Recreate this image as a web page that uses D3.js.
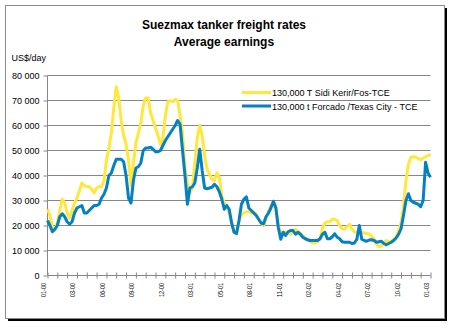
<!DOCTYPE html>
<html><head><meta charset="utf-8">
<script src="https://cdn.jsdelivr.net/npm/d3@7"></script>
<style>
body{margin:0;background:#fff}
svg{display:block}
text{font-family:"Liberation Sans",Arial,Helvetica,sans-serif;fill:#000}
</style>
</head><body>
<svg id="chart" width="452" height="328"></svg>
<script>
// ---- data ----
const titleLines = ["Suezmax tanker freight rates", "Average earnings"];
const yUnitLabel = "US$/day";
const seriesNames = ["130,000 T Sidi Kerir/Fos-TCE", "130,000 t Forcado /Texas City - TCE"];
const seriesColors = ["#FFE83A", "#0480C4"];
const xLabels = ["01-00","03-00","06-00","09-00","12-00","03-01","05-01","08-01","11-01","02-02","04-02","07-02","10-02","01-03"];
const yTicks = [0,10000,20000,30000,40000,50000,60000,70000,80000];
// weekly observations, Jan 2000 - Jan 2003
const sidiKerir = [
26500,24000,19000,18000,21000,26000,30500,29000,25000,23000,
26000,29000,31000,34000,37000,36000,35500,35500,34500,33000,
35000,35500,35500,38000,46000,51000,57000,67000,75500,71000,
62000,56000,52500,46000,36000,45000,53000,57000,61000,68000,
71000,71000,65000,62000,59000,56000,52500,55000,64000,69500,
70000,69500,70500,70000,64000,57000,43000,37000,33000,35000,
45000,55000,60000,56000,48000,42500,40500,38500,38000,41000,
39000,32000,29000,27000,25000,21000,17000,16500,21500,24500,
25000,25500,25500,25000,25500,24500,22500,21000,20000,22500,
25500,28000,29500,28000,20000,17500,17000,17500,17000,16500,
17500,18500,17500,17000,16000,15000,14000,13500,13000,13000,
13500,14500,19000,21000,21500,21500,22500,22500,22000,20000,
18700,18500,19500,20500,18500,17500,17300,17300,17300,17000,
16800,16700,15500,14700,12500,11500,11800,13000,14000,13500,
13300,14500,15500,18000,21000,28000,38000,44500,47300,47500,
47300,46800,46300,47000,47500,48000,48400];
const forcado = [
22000,20000,17500,18500,20000,23500,24700,23500,21500,20500,
21500,25000,27000,27500,28000,25000,25000,26000,27000,28000,
28000,28500,31000,32500,35000,40000,41000,44000,46500,46500,
46500,45500,40000,31000,29000,38000,43000,43500,45000,50000,
51000,51000,51300,50500,49500,49500,50000,52000,54000,55500,
57000,58500,60000,62000,60500,50000,40000,28500,35000,35500,
37000,43000,50500,42000,35000,34700,35000,35300,36500,35500,
33500,30500,26500,28000,26500,21000,17300,16800,22000,28500,
30500,31500,27000,26000,25000,24000,22500,21000,20700,23500,
25000,27000,29700,27000,19300,14500,17300,16000,17500,18000,
18000,16500,17300,16500,15300,14700,14300,14000,14000,14000,
14000,14700,16500,17300,14700,14700,15500,16700,15300,14700,
13500,13300,13300,13300,12800,13000,14500,20000,14500,14000,
13700,14200,14300,14000,13300,13500,13700,12800,12300,12800,
13300,14000,15000,16500,18700,24000,30000,32700,30000,29300,
28900,28500,27500,30000,45300,41000,39300];
const seriesData = [sidiKerir, forcado];

// ---- drawing ----
const svg = d3.select("#chart");
const gridColor = "#868686";

// frame with shadow
svg.append("rect").attr("x",8).attr("y",8).attr("width",439).attr("height",313).attr("fill","#000");
svg.append("rect").attr("x",5.5).attr("y",5.5).attr("width",439).attr("height",313)
  .attr("fill","#fff").attr("stroke","#8c8c8c").attr("stroke-width",1);

const nPts = sidiKerir.length;
const x = d3.scaleLinear().domain([0, nPts-1]).range([47.5, 430.5]);
const y = d3.scaleLinear().domain([0, 80000]).range([275.5, 75.5]);

// titles
svg.selectAll("text.title").data(titleLines).enter().append("text")
  .attr("class","title").attr("x",224).attr("y",(d,i)=>29+i*16.7)
  .attr("text-anchor","middle").attr("font-size","12px").attr("font-weight","bold").text(d=>d);
svg.append("text").attr("x",11.5).attr("y",60.5).attr("font-size","9px").text(yUnitLabel);

// gridlines
svg.append("g").selectAll("line").data(yTicks.filter(v=>v>0)).enter().append("line")
  .attr("x1",x(0)).attr("x2",x(nPts-1)).attr("y1",d=>y(d)).attr("y2",d=>y(d))
  .attr("stroke",gridColor).attr("stroke-width",1);

// y axis
const fmt = v => d3.format(",")(v).replace(/,/g," ");
const yAxis = svg.append("g").attr("transform",`translate(${x(0)},0)`)
  .call(d3.axisLeft(y).tickValues(yTicks).tickFormat(fmt).tickSize(4).tickPadding(4));
yAxis.select(".domain").attr("stroke",gridColor).attr("d",`M0,${y(80000)}V${y(0)}`);
yAxis.selectAll(".tick line").attr("stroke",gridColor);
yAxis.selectAll(".tick text").attr("font-size","9px").attr("font-family",null).attr("fill","#000")
  .attr("x",-8).attr("dy","0.35em");

// x axis
const tickIdx = d3.range(0, nPts, 4);
const xAxis = svg.append("g").attr("transform",`translate(0,${y(0)})`)
  .call(d3.axisBottom(x).tickValues(tickIdx).tickFormat("").tickSize(3));
xAxis.select(".domain").attr("stroke",gridColor).attr("d",`M${x(0)},0H${x(nPts-1)}`);
xAxis.selectAll(".tick line").attr("stroke",gridColor).attr("y1",-3).attr("y2",3);

// x labels (every 12 weeks)
const labelIdx = xLabels.map((d,i)=>i*12);
svg.append("g").selectAll("text").data(xLabels).enter().append("text")
  .attr("transform",(d,i)=>`translate(${x(labelIdx[i])-1.5},283) rotate(-90)`)
  .attr("text-anchor","end").attr("font-size","8px")
  .attr("textLength",14).attr("lengthAdjust","spacingAndGlyphs").text(d=>d);

// lines
const line = d3.line().x((d,i)=>x(i)).y(d=>y(d));
svg.append("g").selectAll("path").data(seriesData).enter().append("path")
  .attr("d",line).attr("fill","none").attr("stroke",(d,i)=>seriesColors[i])
  .attr("stroke-width",3).attr("stroke-linejoin","round");

// legend
const lg = svg.append("g").selectAll("g").data(seriesNames).enter().append("g")
  .attr("transform",(d,i)=>`translate(242,${92.5+i*13.5})`);
lg.append("line").attr("x1",0).attr("x2",29).attr("y1",0).attr("y2",0)
  .attr("stroke",(d,i)=>seriesColors[i]).attr("stroke-width",3);
lg.append("text").attr("x",30).attr("y",3.5).attr("font-size","9px").text(d=>d);
</script>
</body></html>
